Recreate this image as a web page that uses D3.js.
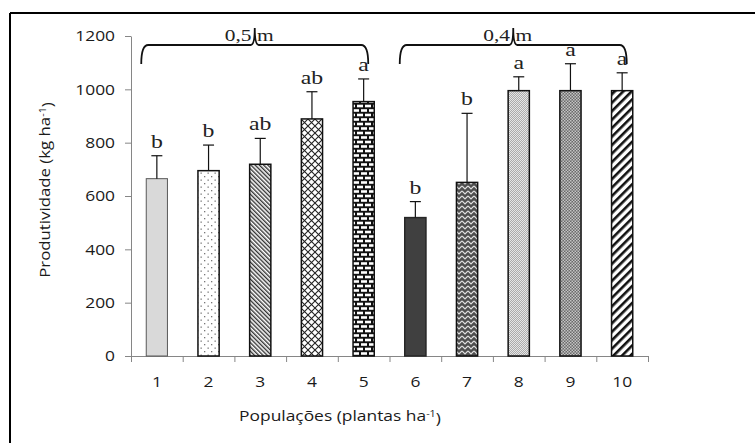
<!DOCTYPE html>
<html>
<head>
<meta charset="utf-8">
<script src="https://cdn.jsdelivr.net/npm/d3@7/dist/d3.min.js"></script>
<style>
  html, body { margin: 0; padding: 0; background: #fff; }
  svg { display: block; }
</style>
</head>
<body>
<script>
// ---------- data ----------
const categories = ["1", "2", "3", "4", "5", "6", "7", "8", "9", "10"];
const values     = [665, 695, 719, 889, 954, 519, 651, 995, 995, 995];
const errors     = [86, 96, 97, 102, 85, 60, 259, 52, 101, 67];
const letters    = ["b", "b", "ab", "ab", "a", "b", "b", "a", "a", "a"];
const patterns   = ["gray", "dots", "fineDiag", "diamond", "brick", "dark", "zigzag", "fineChecker", "checker", "wideDiag"];
const groupLabels = ["0,5 m", "0,4 m"];
const groupStart  = [0, 5];
const groupEnd    = [4, 9];
const yTicks = [0, 200, 400, 600, 800, 1000, 1200];
const yTitle = "Produtividade (kg ha";
const xTitle = "Populações (plantas ha";

// ---------- setup ----------
const W = 755, H = 443;
const svg = d3.select("body").append("svg").attr("width", W).attr("height", H);
const defs = svg.append("defs");

const x = d3.scaleBand().domain(categories).range([131, 648]).paddingInner(0.59).paddingOuter(0.295);
const xl = d3.scaleLinear().domain([0, categories.length]).range([131, 648]);
const y = d3.scaleLinear().domain([0, 1200]).range([356, 36]);

const SANS = "'Open Sans', 'Liberation Sans', sans-serif";
const SERIF = "'Liberation Serif', 'Times New Roman', serif";
const TXT = "#1a1a1a";

// ---------- patterns ----------
function pat(id, w, h, transform) {
  const p = defs.append("pattern").attr("id", id).attr("patternUnits", "userSpaceOnUse")
    .attr("width", w).attr("height", h);
  if (transform) p.attr("patternTransform", transform);
  return p;
}
// dots
{
  const p = pat("dots", 7, 7);
  p.append("rect").attr("width", 7).attr("height", 7).attr("fill", "#fff");
  p.append("rect").attr("x", 1).attr("y", 1).attr("width", 1.3).attr("height", 1.3).attr("fill", "#777");
  p.append("rect").attr("x", 4.5).attr("y", 4.5).attr("width", 1.3).attr("height", 1.3).attr("fill", "#777");
}
// fine diagonal "\"
{
  const p = pat("fineDiag", 3, 3, "rotate(-45)");
  p.append("rect").attr("width", 3).attr("height", 3).attr("fill", "#fff");
  p.append("rect").attr("width", 1.4).attr("height", 3).attr("fill", "#333");
}
// diamond crosshatch
{
  const p = pat("diamond", 7, 7);
  p.append("rect").attr("width", 7).attr("height", 7).attr("fill", "#fff");
  p.append("path").attr("d", "M0,0L7,7M7,0L0,7").attr("stroke", "#222").attr("stroke-width", 1.1);
}
// brick
{
  const p = pat("brick", 8, 9);
  p.append("rect").attr("width", 8).attr("height", 9).attr("fill", "#111");
  p.append("rect").attr("x", 1).attr("y", 1.2).attr("width", 6).attr("height", 2.6).attr("fill", "#fff");
  p.append("rect").attr("x", -3).attr("y", 5.7).attr("width", 6).attr("height", 2.6).attr("fill", "#fff");
  p.append("rect").attr("x", 5).attr("y", 5.7).attr("width", 6).attr("height", 2.6).attr("fill", "#fff");
}
// zigzag
{
  const p = pat("zigzag", 6, 5);
  p.append("rect").attr("width", 6).attr("height", 5).attr("fill", "#4e4e4e");
  p.append("path").attr("d", "M0,1L3,4L6,1").attr("fill", "none").attr("stroke", "#e0e0e0").attr("stroke-width", 1.2);
}
// fine checker
{
  const p = pat("fineChecker", 2, 2);
  p.append("rect").attr("width", 2).attr("height", 2).attr("fill", "#ababab");
  p.append("rect").attr("width", 1).attr("height", 1).attr("fill", "#e6e6e6");
  p.append("rect").attr("x", 1).attr("y", 1).attr("width", 1).attr("height", 1).attr("fill", "#e6e6e6");
}
// checker
{
  const p = pat("checker", 3, 3);
  p.append("rect").attr("width", 3).attr("height", 3).attr("fill", "#6a6a6a");
  p.append("rect").attr("width", 1.5).attr("height", 1.5).attr("fill", "#c4c4c4");
  p.append("rect").attr("x", 1.5).attr("y", 1.5).attr("width", 1.5).attr("height", 1.5).attr("fill", "#c4c4c4");
}
// wide diagonal "/"
{
  const p = pat("wideDiag", 6, 6, "rotate(45)");
  p.append("rect").attr("width", 6).attr("height", 6).attr("fill", "#fff");
  p.append("rect").attr("width", 2.6).attr("height", 6).attr("fill", "#111");
}

function fillFor(name) {
  if (name === "gray") return "#d9d9d9";
  if (name === "dark") return "#404040";
  return `url(#${name})`;
}
function strokeFor(name) {
  if (name === "gray") return "#595959";
  if (name === "dark") return "#262626";
  return "#111";
}

// ---------- frame ----------
svg.append("line").attr("x1", 10).attr("x2", W).attr("y1", 13).attr("y2", 13)
  .attr("stroke", "#000").attr("stroke-width", 2);
svg.append("line").attr("x1", 10).attr("x2", 10).attr("y1", 13).attr("y2", H)
  .attr("stroke", "#000").attr("stroke-width", 2);

// ---------- axes ----------
const yAxis = svg.append("g").attr("transform", "translate(131,0)")
  .call(d3.axisLeft(y).tickValues(yTicks).tickFormat(d3.format("d")).tickSize(6).tickSizeOuter(0));
yAxis.select(".domain").attr("stroke", "#868686");
yAxis.selectAll(".tick line").attr("stroke", "#868686");
yAxis.selectAll(".tick text")
  .attr("x", -13.3).attr("dy", "0.34em")
  .attr("transform", "scale(1.2,1)")
  .style("font-family", SANS).style("font-size", "14.5px").attr("fill", TXT);

const xAxis = svg.append("g").attr("transform", "translate(0,356)")
  .call(d3.axisBottom(xl).ticks(categories.length).tickFormat("").tickSize(6).tickSizeOuter(0));
xAxis.select(".domain").attr("stroke", "#868686");
xAxis.selectAll(".tick line").attr("stroke", "#868686");

svg.append("g").selectAll("text").data(categories).join("text")
  .attr("transform", d => `translate(${x(d) + x.bandwidth() / 2},387) scale(1.2,1)`)
  .attr("text-anchor", "middle")
  .style("font-family", SANS).style("font-size", "14.5px").attr("fill", TXT)
  .text(d => d);

// axis titles
const yt = svg.append("text")
  .attr("transform", "translate(50,190) rotate(-90) scale(1.2,1)")
  .attr("text-anchor", "middle")
  .style("font-family", SANS).style("font-size", "14px").attr("fill", TXT);
yt.append("tspan").text(yTitle);
yt.append("tspan").attr("dy", "-0.45em").style("font-size", "9px").text("-1");
yt.append("tspan").attr("dy", "0.45em").text(")");

const xt = svg.append("text")
  .attr("transform", "translate(340,421) scale(1.2,1)")
  .attr("text-anchor", "middle")
  .style("font-family", SANS).style("font-size", "14.5px").attr("fill", TXT);
xt.append("tspan").text(xTitle);
xt.append("tspan").attr("dy", "-0.45em").style("font-size", "9px").text("-1");
xt.append("tspan").attr("dy", "0.45em").text(")");

// ---------- bars ----------
const idx = d3.range(categories.length);
svg.append("g").selectAll("rect").data(idx).join("rect")
  .attr("x", i => x(categories[i]))
  .attr("y", i => y(values[i]))
  .attr("width", x.bandwidth())
  .attr("height", i => y(0) - y(values[i]))
  .attr("fill", i => fillFor(patterns[i]))
  .attr("stroke", i => strokeFor(patterns[i]))
  .attr("stroke-width", i => patterns[i] === "gray" ? 1 : 1.5);

// error bars (upper only)
const eb = svg.append("g").attr("stroke", "#111").attr("stroke-width", 1.2);
idx.forEach(i => {
  const cx = x(categories[i]) + x.bandwidth() / 2;
  const top = y(values[i] + errors[i]);
  eb.append("line").attr("x1", cx).attr("x2", cx).attr("y1", y(values[i])).attr("y2", top);
  eb.append("line").attr("x1", cx - 5.5).attr("x2", cx + 5.5).attr("y1", top).attr("y2", top);
});

// letters
svg.append("g").selectAll("text").data(idx).join("text")
  .attr("transform", i => `translate(${x(categories[i]) + x.bandwidth() / 2},${y(values[i] + errors[i]) - 8}) scale(1.22,1)`)
  .attr("text-anchor", "middle")
  .style("font-family", SERIF).style("font-size", "19.5px").style("font-weight", "normal").attr("fill", "#222")
  .text(i => letters[i]);

// ---------- braces ----------
groupLabels.forEach((lab, g) => {
  const left = x(categories[groupStart[g]]) - 5;
  const right = x(categories[groupEnd[g]]) + x.bandwidth() - 6;
  const c = (left + right) / 2;
  const yl = 45, ye = 64, yc = 28, r = 7;
  const d = `M${left},${ye} Q${left},${yl} ${left + r},${yl} L${c - 4},${yl} Q${c},${yl} ${c},${yc} Q${c},${yl} ${c + 4},${yl} L${right - r},${yl} Q${right},${yl} ${right},${ye}`;
  svg.append("path").attr("d", d).attr("fill", "none").attr("stroke", "#111").attr("stroke-width", 1.8);
  svg.append("text")
    .attr("transform", `translate(${c - 30},41) scale(1.3,1)`)
    .style("font-family", SERIF).style("font-size", "16.5px").attr("fill", "#222")
    .attr("xml:space", "preserve")
    .text(lab);
});
</script>
</body>
</html>
